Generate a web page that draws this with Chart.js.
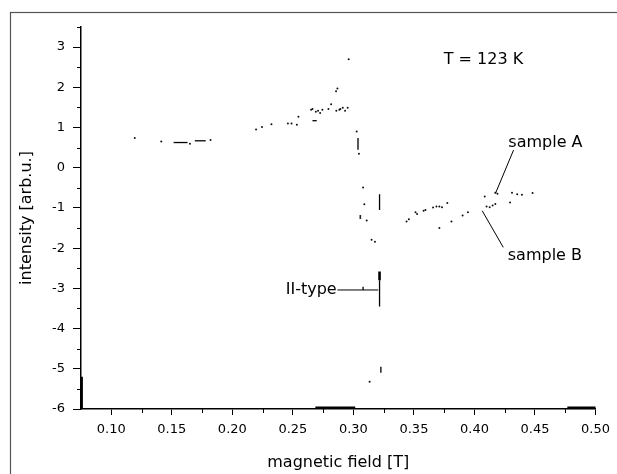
<!DOCTYPE html>
<html>
<head>
<meta charset="utf-8">
<script src="https://cdn.jsdelivr.net/npm/chart.js@4.4.0/dist/chart.umd.min.js"></script>
<style>
    html, body { margin: 0; padding: 0; background: #fff; }
</style>
</head>
<body>
<canvas id="eprChart" width="617" height="474"></canvas>
<script>
// EPR spectra at T = 123 K
// [magnetic field (T), intensity (arb.u.)]
const sampleA = [
    [0.1194, 0.74], [0.1413, 0.65], [0.165, 0.595], [0.182, 0.69],
    [0.2196, 0.95], [0.2245, 1.01], [0.2323, 1.08], [0.2459, 1.10], [0.2489, 1.10],
    [0.2533, 1.07], [0.2546, 1.265], [0.2651, 1.44], [0.2662, 1.46], [0.269, 1.39],
    [0.2708, 1.42], [0.2725, 1.36], [0.2744, 1.44], [0.2794, 1.46], [0.2816, 1.58],
    [0.2857, 1.905], [0.2868, 1.97], [0.2859, 1.42], [0.2884, 1.44], [0.2892, 1.46],
    [0.2912, 1.49], [0.2931, 1.42], [0.2953, 1.49], [0.2961, 2.70],
    [0.3027, 0.90], [0.3046, 0.345], [0.308, -0.49], [0.309, -0.905], [0.3057, -1.20],
    [0.3057, -1.25], [0.311, -1.31], [0.315, -1.79], [0.3178, -1.84], [0.3134, -5.32],
    [0.3439, -1.34], [0.3458, -1.28], [0.3513, -1.11], [0.3526, -1.15], [0.358, -1.07],
    [0.3595, -1.05], [0.3658, -0.99], [0.3686, -0.965], [0.371, -0.965], [0.3732, -0.98],
    [0.3776, -0.88], [0.4085, -0.717], [0.4172, -0.62], [0.419, -0.65], [0.431, -0.62],
    [0.4353, -0.66], [0.4392, -0.67], [0.448, -0.63]
];
const sampleB = [
    [0.371, -1.50], [0.381, -1.34], [0.3902, -1.19], [0.3946, -1.11], [0.41, -0.965],
    [0.4126, -0.98], [0.415, -0.94], [0.4172, -0.90], [0.4294, -0.865]
];
// short runs where the recorded points merge into a stroke
const traceRuns = [
    [[0.1515, 0.627], [0.163, 0.627]],
    [[0.169, 0.67], [0.178, 0.67]],
    [[0.2662, 1.17], [0.2697, 1.17]],
    [[0.3038, 0.74], [0.3038, 0.445]],
    [[0.3216, -0.66], [0.3216, -1.05]],
    [[0.3216, -2.80], [0.3216, -3.45]],
    [[0.308, -2.96], [0.308, -3.04]],
    [[0.3227, -4.95], [0.3227, -5.10]]
];
const denseRuns = [
    [[0.3216, -2.58], [0.3216, -2.80]],
    [[0.2686, -5.97], [0.3015, -5.97]],
    [[0.4767, -5.97], [0.5, -5.97]],
    [[0.0755, -5.20], [0.0755, -6.0]]
];
const xRange = [0.075, 0.5];
const yRange = [-6, 3.5];
const xTicks = [0.10, 0.15, 0.20, 0.25, 0.30, 0.35, 0.40, 0.45, 0.50];
const yTicks = [-6, -5, -4, -3, -2, -1, 0, 1, 2, 3];
const xMinorTicks = [0.125, 0.175, 0.225, 0.275, 0.325, 0.375, 0.425, 0.475];
const yMinorTicks = [-5.5, -4.5, -3.5, -2.5, -1.5, -0.5, 0.5, 1.5, 2.5, 3.5];

const FONT = 'DejaVu Sans';

const toXY = pts => pts.map(p => ({ x: p[0], y: p[1] }));

const datasets = [
    { label: 'sample A', data: toXY(sampleA), pointRadius: 1, backgroundColor: '#111', borderWidth: 0, clip: false },
    { label: 'sample B', data: toXY(sampleB), pointRadius: 1, backgroundColor: '#111', borderWidth: 0, clip: false }
];
traceRuns.forEach(run => datasets.push({
    data: toXY(run), showLine: true, pointRadius: 0, borderColor: '#000', borderWidth: 1.3, clip: false
}));
denseRuns.forEach(run => datasets.push({
    data: toXY(run), showLine: true, pointRadius: 0, borderColor: '#000', borderWidth: 2.6, clip: false
}));

// page frame, minor ticks and the text notes
const extras = {
    id: 'extras',
    beforeDraw(chart) {
        const ctx = chart.ctx;
        ctx.save();
        ctx.fillStyle = '#fff';
        ctx.fillRect(0, 0, chart.width, chart.height);
        ctx.strokeStyle = '#555';
        ctx.lineWidth = 1.2;
        ctx.strokeRect(10.5, 12.5, chart.width + 20, chart.height + 20);
        ctx.restore();
    },
    afterDraw(chart) {
        const { ctx, scales: { x, y } } = chart;
        const px = v => x.getPixelForValue(v);
        const py = v => y.getPixelForValue(v);
        ctx.save();
        ctx.strokeStyle = '#000';
        ctx.lineWidth = 1;
        ctx.beginPath();
        yMinorTicks.forEach(v => {
            const yy = Math.round(py(v)) + 0.5;
            ctx.moveTo(x.left - 4, yy);
            ctx.lineTo(x.left, yy);
        });
        xMinorTicks.forEach(v => {
            const xx = Math.round(px(v)) + 0.5;
            ctx.moveTo(xx, y.bottom);
            ctx.lineTo(xx, y.bottom + 4);
        });
        ctx.stroke();

        // leader lines
        ctx.beginPath();
        ctx.moveTo(px(0.4323), py(0.44));
        ctx.lineTo(px(0.4174), py(-0.636));
        ctx.moveTo(px(0.4238), py(-1.98));
        ctx.lineTo(px(0.4064), py(-1.07));
        ctx.moveTo(px(0.2868), py(-3.04));
        ctx.lineTo(px(0.3205), py(-3.04));
        ctx.stroke();

        ctx.fillStyle = '#000';
        ctx.font = '16px "' + FONT + '"';
        ctx.textBaseline = 'middle';
        ctx.textAlign = 'left';
        ctx.fillText('T = 123 K', px(0.3746), py(2.68));
        ctx.fillText('sample A', px(0.428), py(0.61));
        ctx.fillText('sample B', px(0.4275), py(-2.195));
        ctx.textAlign = 'right';
        ctx.fillText('II-type', px(0.2862), py(-3.04));
        ctx.restore();
    }
};

const axisGrid = len => ({
    display: true, drawOnChartArea: false, drawTicks: true,
    tickLength: len, color: '#000', lineWidth: 1
});

new Chart(document.getElementById('eprChart'), {
    type: 'scatter',
    data: { datasets: datasets },
    options: {
        responsive: false,
        animation: false,
        layout: { padding: { left: 0, right: 20, top: 27, bottom: 0 } },
        plugins: {
            legend: { display: false },
            tooltip: { enabled: false }
        },
        scales: {
            x: {
                type: 'linear',
                min: xRange[0],
                max: xRange[1],
                ticks: {
                    color: '#000',
                    font: { family: FONT, size: 13 },
                    padding: 7,
                    maxRotation: 0,
                    autoSkip: false,
                    callback: v => v.toFixed(2)
                },
                afterBuildTicks: s => { s.ticks = xTicks.map(v => ({ value: v })); },
                grid: axisGrid(6),
                border: { display: true, color: '#000', width: 1.5 },
                title: {
                    display: true,
                    text: 'magnetic field [T]',
                    color: '#000',
                    font: { family: FONT, size: 16 },
                    padding: { top: 0, bottom: 2 }
                },
                afterFit: s => { s.height = 65; }
            },
            y: {
                type: 'linear',
                min: yRange[0],
                max: yRange[1],
                ticks: {
                    color: '#000',
                    font: { family: FONT, size: 13 },
                    padding: 8,
                    autoSkip: false
                },
                afterBuildTicks: s => { s.ticks = yTicks.map(v => ({ value: v })); },
                grid: axisGrid(8),
                border: { display: true, color: '#000', width: 1.5 },
                title: {
                    display: true,
                    text: 'intensity [arb.u.]',
                    color: '#000',
                    font: { family: FONT, size: 16 },
                    padding: { top: 17, bottom: 0 }
                },
                afterFit: s => { s.width = 81; }
            }
        }
    },
    plugins: [extras]
});
</script>
</body>
</html>
